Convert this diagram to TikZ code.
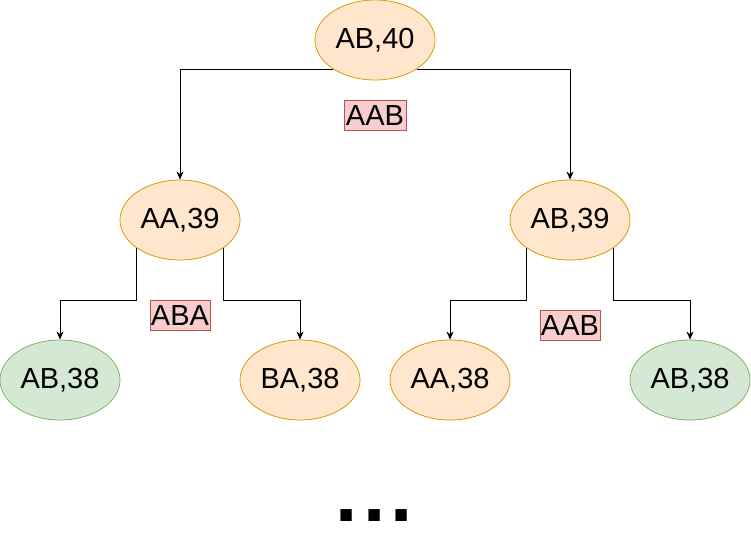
\documentclass[tikz,border=0pt]{standalone}
\usepackage{fontspec}
\setmainfont{Liberation Sans}
\usetikzlibrary{shapes.geometric,arrows.meta}
\definecolor{ofill}{HTML}{FFE6CC}
\definecolor{oline}{HTML}{D79B00}
\definecolor{gfill}{HTML}{D5E8D4}
\definecolor{gline}{HTML}{82B366}
\definecolor{pfill}{HTML}{F8CECC}
\definecolor{pline}{HTML}{B85450}
\tikzset{
  st/.style={ellipse, minimum width=120pt, minimum height=80pt, inner sep=0pt, line width=0.8pt, font=\fontsize{29}{31}\selectfont},
  orn/.style={st, draw=oline, fill=ofill},
  grn/.style={st, draw=gline, fill=gfill},
  lab/.style={draw=pline, fill=pfill, line width=0.8pt, inner sep=0pt, minimum height=30pt, text height=21pt, text depth=0pt, font=\fontsize{29}{31}\selectfont},
  con/.style={line width=0.8pt, -{Stealth[length=8pt,width=7pt,inset=2.5pt]}}
}
\begin{document}
\begin{tikzpicture}[x=1pt,y=-1pt]
\useasboundingbox (0,0) rectangle (751,546);
\node[orn] (r) at (375,40) {AB,40};
\node[orn] (l1) at (180,220) {AA,39};
\node[orn] (r1) at (570,220) {AB,39};
\node[grn] (ll) at (60,380) {AB,38};
\node[orn] (lr) at (300,380) {BA,38};
\node[orn] (rl) at (450,380) {AA,38};
\node[grn] (rr) at (690,380) {AB,38};
\node[lab, minimum width=62pt] (t1) at (375,115) {AAB};
\node[lab, minimum width=60pt] (t2) at (180,315) {ABA};
\node[lab, minimum width=60pt] (t3) at (570,325) {AAB};
\draw[con] (r.215) -| (l1.north);
\draw[con] (r.325) -| (r1.north);
\draw[con] (l1.213) |- ++(0,52) -| (ll.north);
\draw[con] (l1.327) |- ++(0,52) -| (lr.north);
\draw[con] (r1.213) |- ++(0,52) -| (rl.north);
\draw[con] (r1.327) |- ++(0,52) -| (rr.north);
\node[font=\fontsize{80}{80}\selectfont\bfseries, inner sep=0pt, anchor=base] (dots) at (374.5,521) {.\kern5.3pt.\kern5.3pt.};
\end{tikzpicture}
\end{document}
